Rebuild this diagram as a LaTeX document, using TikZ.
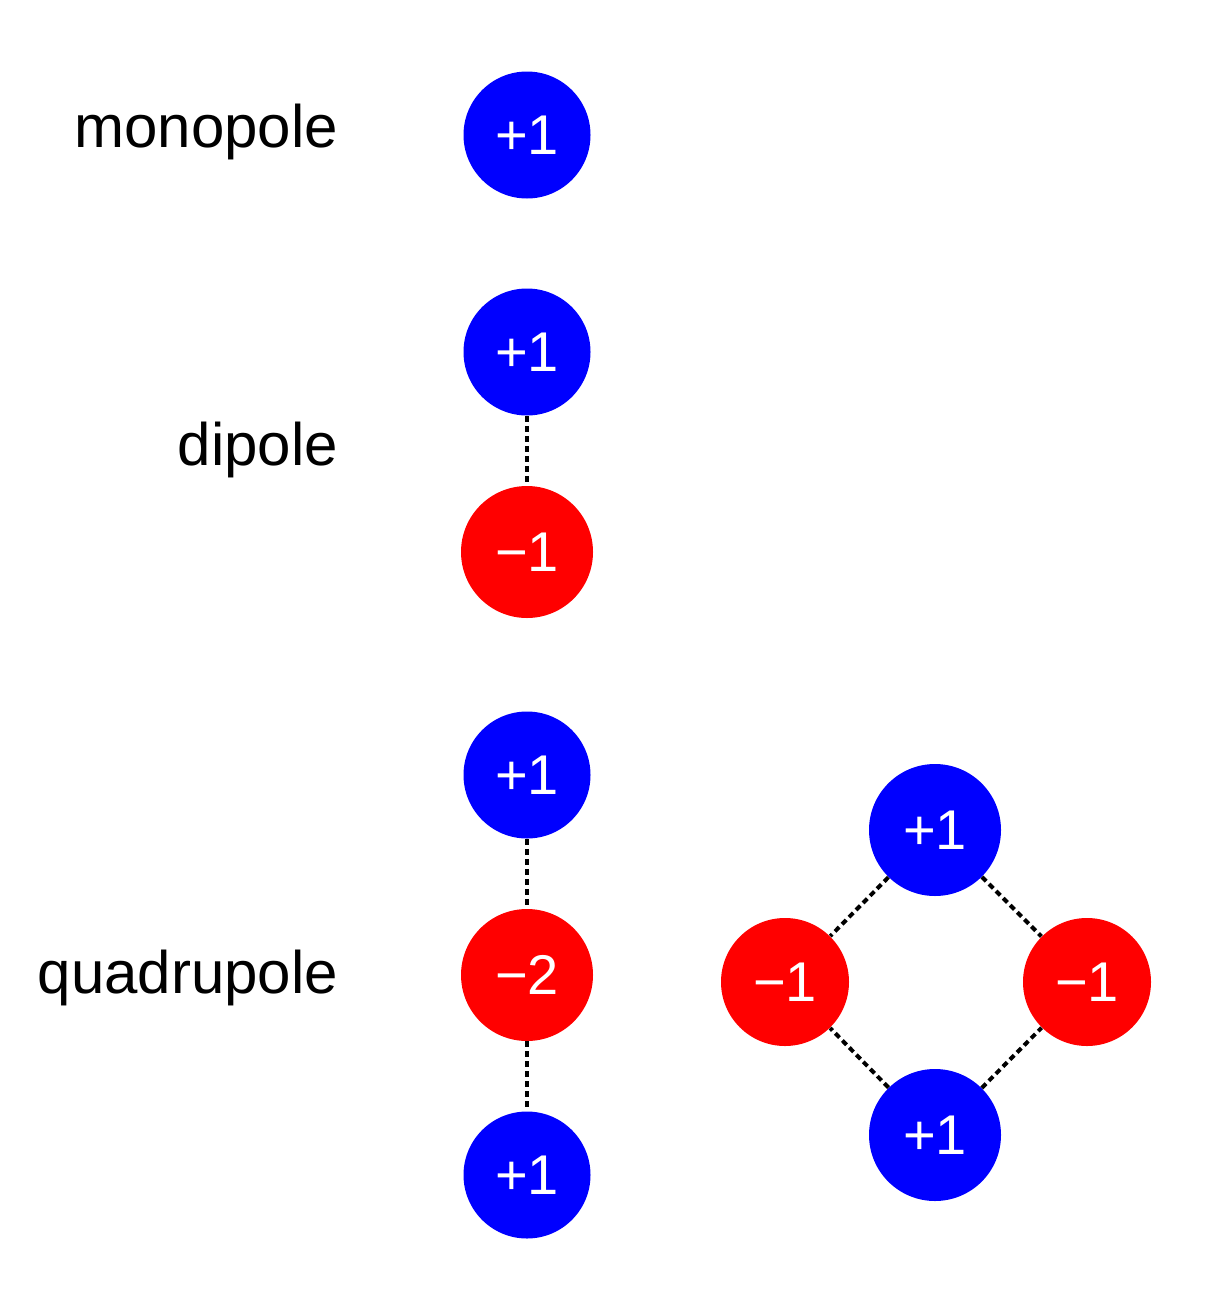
\documentclass[tikz,border=0pt]{standalone}
\usepackage{fontspec}
\setmainfont{Liberation Sans}
\begin{document}
\begin{tikzpicture}[x=0.5pt,y=-0.5pt,
  poscharge/.style={circle,fill=blue,minimum size=63.5pt,inner sep=0pt,text=white,font=\fontsize{28}{30}\selectfont},
  negcharge/.style={circle,fill=red,minimum size=66pt,inner sep=0pt,text=white,font=\fontsize{28}{30}\selectfont},
  lab/.style={anchor=east,font=\fontsize{30}{32}\selectfont},
  link/.style={draw=black,line width=2pt,dash pattern=on 3pt off 2pt}]
\useasboundingbox (0,0) rectangle (1223,1290);
\node[lab] (l1) at (345,132) {monopole};
\node[lab] (l2) at (345,450) {dipole};
\node[lab] (l3) at (345,978) {quadrupole};
\node[poscharge] (m) at (527,135) {+1};
\node[poscharge] (d1) at (527,352) {+1};
\node[negcharge] (d2) at (527,552) {\textminus1};
\node[poscharge] (q1) at (527,775) {+1};
\node[negcharge] (q2) at (527,975) {\textminus2};
\node[poscharge] (q3) at (527,1175) {+1};
\node[poscharge,minimum size=66pt] (t) at (935,830) {+1};
\node[negcharge,minimum size=64pt] (l) at (785,982) {\textminus1};
\node[negcharge,minimum size=64pt] (r) at (1087,982) {\textminus1};
\node[poscharge,minimum size=66pt] (b) at (935,1135) {+1};
\draw[link] (d1) -- (d2);
\draw[link] (q1) -- (q2);
\draw[link] (q2) -- (q3);
\draw[link] (t) -- (l);
\draw[link] (t) -- (r);
\draw[link] (b) -- (l);
\draw[link] (b) -- (r);
\end{tikzpicture}
\end{document}
